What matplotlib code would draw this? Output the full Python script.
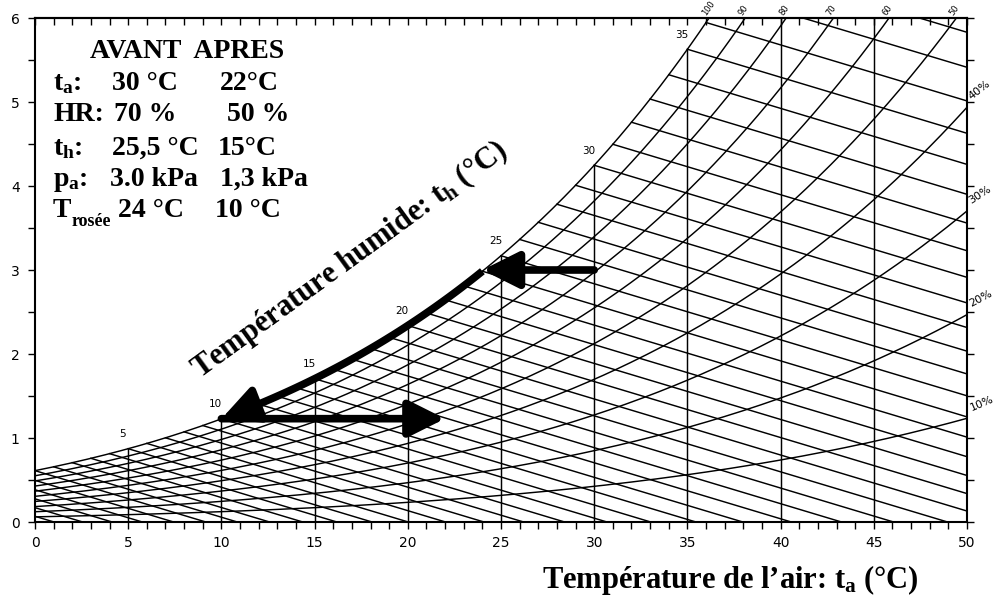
import numpy as np
import matplotlib
matplotlib.use("Agg")
import matplotlib.pyplot as plt

# ---------------- data ----------------
# saturation vapour pressure (kPa) read for each air temperature (°C)
sat_temps = list(range(-5, 51))
sat_kpa = [0.4015, 0.4375, 0.4760, 0.5173, 0.5626,
           0.6113, 0.6571, 0.7060, 0.7581, 0.8135, 0.8726, 0.9354, 1.0021, 1.0730, 1.1482,
           1.2282, 1.3129, 1.4028, 1.4981, 1.5989, 1.7057, 1.8188, 1.9383, 2.0647, 2.1982,
           2.3392, 2.4881, 2.6452, 2.8109, 2.9856, 3.1697, 3.3637, 3.5679, 3.7828, 4.0089,
           4.2467, 4.4966, 4.7592, 5.0350, 5.3244, 5.6280, 5.9465, 6.2803, 6.6302, 6.9969,
           7.3814, 7.7819, 8.2054, 8.6463, 9.1075, 9.5898, 10.094, 10.620, 11.171, 11.745,
           12.344]
rh_levels = [10, 20, 30, 40, 50, 60, 70, 80, 90, 100]
wetbulb_temps = list(range(-5, 39))
psychro_slope = 0.0667            # kPa per °C of wet-bulb depression
dry_lines = [5, 10, 15, 20, 25, 30, 35, 40, 45]
sat_labels = [5, 10, 15, 20, 25, 30, 35]
right_rh_labels = [10, 20, 30, 40]
top_rh_labels = [100, 90, 80, 70, 60, 50]
x_ticks = [0, 5, 10, 15, 20, 25, 30, 35, 40, 45, 50]
y_ticks = [0, 1, 2, 3, 4, 5, 6]

# process (t_a, p_a)
state_avant = (30, 3.0)
state_rosee_avant = (24, 3.0)
state_rosee_apres = (10, 1.23)
state_apres = (22, 1.23)

table_header = "AVANT  APRES"
row_labels = ["$t_a$:", "HR:", "$t_h$:", "$p_a$:", "T"]
col_avant = ["30 °C", "70 %", "25,5 °C", "3.0 kPa", "24 °C"]
col_apres = ["22°C", "50 %", "15°C", "1,3 kPa", "10 °C"]

# ---------------- helpers ----------------
lt = np.array(sat_temps, float)
lp = np.log(np.array(sat_kpa))

def psat(t):
    return np.exp(np.interp(t, lt, lp))

def t_at(p):
    return np.interp(np.log(p), lp, lt)

plt.rcParams['mathtext.fontset'] = 'custom'
plt.rcParams['mathtext.rm'] = 'Liberation Serif:bold'
plt.rcParams['mathtext.it'] = 'Liberation Serif:bold'
plt.rcParams['mathtext.bf'] = 'Liberation Serif:bold'

W, H = 1000, 601
fig = plt.figure(figsize=(W / 100, H / 100), dpi=100)
x0, x1, ytop, ybot = 35, 967, 18, 522
ax = fig.add_axes([x0 / W, 1 - ybot / H, (x1 - x0) / W, (ybot - ytop) / H])
ax.set_xlim(0, 50)
ax.set_ylim(0, 6)

LW = 1.05
tf = np.linspace(0, 50, 1001)
for rh in rh_levels:
    ax.plot(tf, rh / 100 * psat(tf), color='black', lw=LW)

for th in wetbulb_temps:
    p0 = psat(th)
    ts = max(th, 0)
    te = min(50, th + p0 / psychro_slope)
    ax.plot([ts, te], [p0 - psychro_slope * (ts - th), p0 - psychro_slope * (te - th)],
            color='black', lw=LW)

for t in dry_lines:
    ax.plot([t, t], [0, min(psat(t), 6)], color='black', lw=LW)

for t in sat_labels:
    ax.annotate(str(t), xy=(t, psat(t)), xytext=(-4, 7), textcoords='offset points',
                ha='center', va='bottom', fontsize=7.5)

for rh in right_rh_labels:
    ax.annotate(f"{rh}%", xy=(50, rh / 100 * psat(50)), xytext=(4, 4),
                textcoords='offset points', ha='left', va='bottom', fontsize=8,
                rotation=18 + rh / 2, rotation_mode='anchor', annotation_clip=False)

for rh in top_rh_labels:
    tc = t_at(6 / (rh / 100))
    ax.annotate(str(rh), xy=(tc, 6), xytext=(-1, 0.5), textcoords='offset points',
                ha='left', va='bottom', fontsize=6, rotation=55,
                rotation_mode='anchor', annotation_clip=False)

# ticks
ax.set_xticks(x_ticks)
ax.set_xticks(np.arange(0, 51, 1), minor=True)
ax.set_yticks(y_ticks)
ax.set_yticks(np.arange(0, 6.01, 0.5), minor=True)
ax.tick_params(axis='x', which='both', direction='out', length=5, width=1,
               labelsize=10, pad=5, top=False)
ax.tick_params(axis='y', which='both', direction='out', length=5, width=1,
               labelsize=10, pad=6, right=True)
sec = ax.secondary_xaxis('top')
sec.set_xticks(np.arange(0, 51, 1))
sec.tick_params(direction='in', length=5, width=1, labeltop=False)
sec.spines['top'].set_linewidth(1.5)
for s in ax.spines.values():
    s.set_linewidth(1.5)

# process arrows
AW = 5.5
hs = '-|>,head_length=1.1,head_width=0.55'
ax.annotate('', xy=state_rosee_avant, xytext=state_avant,
            arrowprops=dict(arrowstyle=hs, lw=AW, color='black',
                            shrinkA=0, shrinkB=0, mutation_scale=20))
tc = np.linspace(state_rosee_avant[0], 11.3, 100)
ax.plot(tc, psat(tc), color='black', lw=AW, solid_capstyle='butt')
ax.annotate('', xy=(state_rosee_apres[0], psat(state_rosee_apres[0])),
            xytext=(11.6, psat(11.6)),
            arrowprops=dict(arrowstyle=hs, lw=AW, color='black',
                            shrinkA=0, shrinkB=0, mutation_scale=20))
ax.annotate('', xy=state_apres, xytext=state_rosee_apres,
            arrowprops=dict(arrowstyle=hs, lw=AW, color='black',
                            shrinkA=0, shrinkB=0, mutation_scale=20))

# texts
def P(x, y):
    return x / W, 1 - y / H

serif = dict(family='Liberation Serif', weight='bold', color='black')
FS = 20
fig.text(*P(90, 58), table_header, fontsize=FS, va='baseline', **serif)
row_y = [90, 121, 155, 186, 217]
col1_x = [112, 114, 112, 110, 118]
col2_x = [220, 227, 218, 220, 215]
for lab, a, b, y, xa, xb in zip(row_labels, col_avant, col_apres, row_y, col1_x, col2_x):
    fig.text(*P(53, y), lab, fontsize=FS, va='baseline', **serif)
    fig.text(*P(xa, y), a, fontsize=FS, va='baseline', **serif)
    fig.text(*P(xb, y), b, fontsize=FS, va='baseline', **serif)
fig.text(*P(72, 226), "rosée", fontsize=13, va='baseline', **serif)

fig.text(*P(350, 260), "Température humide: $t_h$ (°C)", fontsize=22, rotation=36,
         ha='center', va='center', rotation_mode='anchor', **serif)
fig.text(*P(730, 580), "Température de l’air: $t_a$ (°C)", fontsize=22,
         ha='center', va='center', **serif)

fig.savefig('out.png', dpi=100)
